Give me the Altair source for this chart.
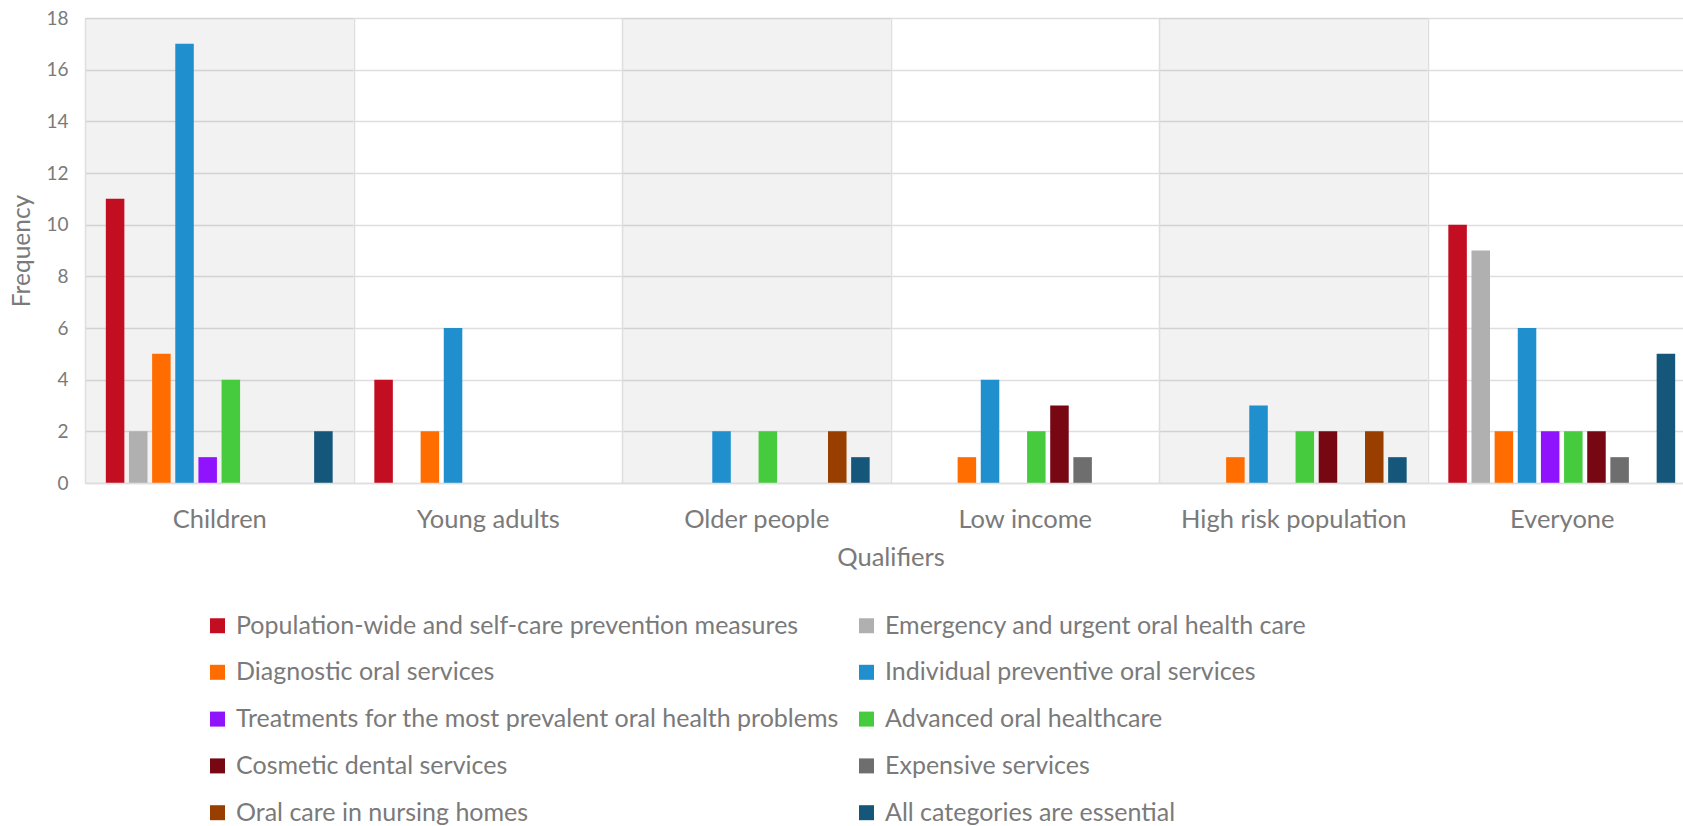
import altair as alt
import pandas as pd

qualifiers = ["Children", "Young adults", "Older people", "Low income",
              "High risk population", "Everyone"]
shaded = ["Children", "Older people", "High risk population"]

categories = [
    "Population-wide and self-care prevention measures",
    "Emergency and urgent oral health care",
    "Diagnostic oral services",
    "Individual preventive oral services",
    "Treatments for the most prevalent oral health problems",
    "Advanced oral healthcare",
    "Cosmetic dental services",
    "Expensive services",
    "Oral care in nursing homes",
    "All categories are essential",
]
colors = ["#C30D21", "#B0B0B0", "#FF6D00", "#1F8FCE", "#9013FE",
          "#47CB3E", "#780714", "#6E6E6E", "#983F00", "#14577A"]

# values per category, across qualifiers (same order as `qualifiers`)
pop_wide = [11, 4, 0, 0, 0, 10]
emergency = [2, 0, 0, 0, 0, 9]
diagnostic = [5, 2, 0, 1, 1, 2]
individual = [17, 6, 2, 4, 3, 6]
treatments = [1, 0, 0, 0, 0, 2]
advanced = [4, 0, 2, 2, 2, 2]
cosmetic = [0, 0, 0, 3, 2, 2]
expensive = [0, 0, 0, 1, 0, 1]
nursing = [0, 0, 2, 0, 2, 0]
all_cat = [2, 0, 1, 0, 1, 5]

series = [pop_wide, emergency, diagnostic, individual, treatments,
          advanced, cosmetic, expensive, nursing, all_cat]

rows = []
for cat, vals in zip(categories, series):
    for q, v in zip(qualifiers, vals):
        rows.append({"Qualifier": q, "Category": cat, "Frequency": v})
df = pd.DataFrame(rows)
bg = pd.DataFrame({"Qualifier": shaded})

# legend is filled column by column: put the entries of the left column first
legend_order = categories[0::2] + categories[1::2]
legend_colors = colors[0::2] + colors[1::2]

FONT = "Lato"
TXT = "#7a7a7a"
GRID = "#dedede"
PLOT_H = 465
VIEW_W = 1598
FULL_W = 1611

xscale = alt.Scale(domain=qualifiers, range=[0, FULL_W], paddingInner=0, paddingOuter=0)
xaxis = alt.Axis(title="Qualifiers", titleFont=FONT, titleFontSize=25.5, titleFontWeight="normal",
                 titleColor=TXT, titlePadding=13,
                 labelFont=FONT, labelFontSize=25.5, labelColor=TXT, labelPadding=24,
                 labelLimit=500, labelAngle=0, ticks=False, grid=True, gridColor=GRID,
                 gridWidth=1.5, tickBand="extent", domainColor=GRID, domainWidth=1.5)

background = alt.Chart(bg).mark_rect(color="black", opacity=0.052).encode(
    x=alt.X("Qualifier:N", scale=xscale, sort=qualifiers, axis=xaxis),
    y=alt.value(0),
    y2=alt.value(PLOT_H),
)

bars = alt.Chart(df).mark_bar().encode(
    x=alt.X("Qualifier:N", scale=xscale, sort=qualifiers, axis=xaxis),
    xOffset=alt.XOffset("Category:N", sort=categories,
                        scale=alt.Scale(domain=categories, paddingInner=0.2, paddingOuter=0.9)),
    y=alt.Y("Frequency:Q", scale=alt.Scale(domain=[0, 18], nice=False),
            axis=alt.Axis(values=list(range(0, 19, 2)), title="Frequency",
                          titleFont=FONT, titleFontSize=24.5, titleFontWeight="normal",
                          titleColor=TXT, titlePadding=11,
                          labelFont=FONT, labelFontSize=19, labelColor=TXT, labelPadding=17,
                          ticks=False, domain=False, grid=True, gridColor=GRID, gridWidth=1.5)),
    color=alt.Color("Category:N",
                    scale=alt.Scale(domain=legend_order, range=legend_colors),
                    legend=alt.Legend(orient="none", legendX=120, legendY=595, columns=2,
                                      title=None, symbolType="square", symbolSize=225,
                                      symbolStrokeWidth=0, symbolOpacity=1,
                                      labelFont=FONT, labelFontSize=25, labelColor=TXT,
                                      labelLimit=1000, labelOffset=6,
                                      rowPadding=20.8, columnPadding=15, padding=0)),
)

chart = alt.layer(background, bars).properties(
    width=VIEW_W, height=PLOT_H,
    autosize=alt.AutoSizeParams(type="none"),
    padding={"left": 85, "top": 18, "right": 0, "bottom": 826 - 18 - PLOT_H},
).configure_view(stroke=None).configure(font=FONT)

chart.save("out.html", embed_options={"renderer": "svg", "actions": False})
